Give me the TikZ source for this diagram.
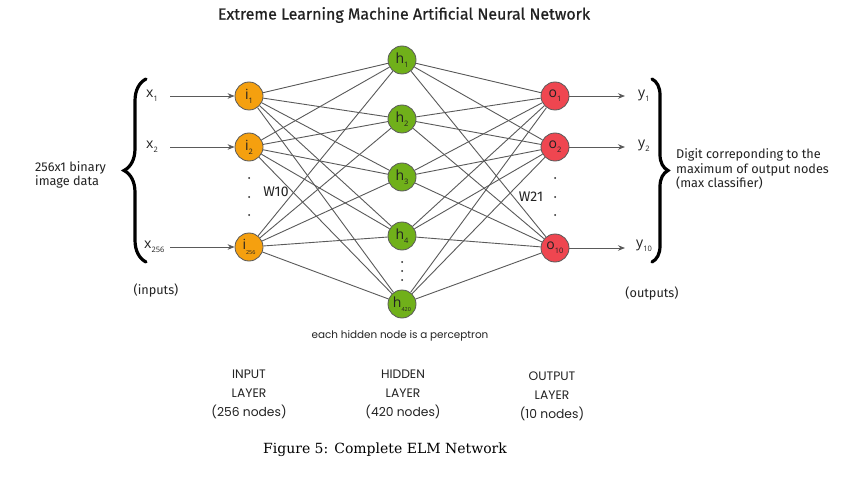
\documentclass[tikz,border=0pt]{standalone}
\usepackage{fontspec}
\setmainfont{Open Sans}
\newfontfamily\dinfont{Fira Sans}
\newfontfamily\dintitle{Fira Sans}[FakeBold=0.6]
\newfontfamily\geofont{Poppins}
\newfontfamily\capfont{DejaVu Serif}
\usetikzlibrary{arrows.meta,decorations.pathreplacing}
\definecolor{inorange}{HTML}{F5A00F}
\definecolor{hidgreen}{HTML}{70B01A}
\definecolor{outred}{HTML}{EF4650}
\definecolor{edgegray}{HTML}{5A5A5A}
\definecolor{txt}{HTML}{222222}
\newcommand\lsub[1]{\raisebox{-0.55ex}{\fontsize{7.5}{7.5}\selectfont #1}}
\newcommand\tsub[1]{\raisebox{-0.6ex}{\fontsize{5.5}{5.5}\selectfont #1}}
\tikzset{
  neuron/.style={circle, draw=edgegray, line width=0.8pt, minimum size=28pt, inner sep=0pt, text=txt, font=\fontsize{14}{14}\selectfont},
  inneuron/.style={neuron, fill=inorange},
  hidneuron/.style={neuron, fill=hidgreen},
  outneuron/.style={neuron, fill=outred},
  conn/.style={draw=edgegray, line width=0.9pt},
  arr/.style={conn, -{Stealth[length=7pt,width=5.5pt]}},
  lbl/.style={text=txt, inner sep=0pt, font=\fontsize{14}{14}\selectfont},
  side/.style={text=txt, inner sep=0pt, align=left, font=\dinfont\fontsize{12.7}{14.5}\selectfont},
  geo/.style={text=txt, inner sep=0pt, align=center, font=\geofont\fontsize{12.3}{19}\selectfont},
  dotm/.style={fill=txt},
  bigbrace/.style={decorate, line width=3.2pt, line cap=round}
}
\begin{document}
\begin{tikzpicture}[x=1pt,y=-1pt]
\useasboundingbox (0,0) rectangle (854,492);
\fill[white] (0,0) rectangle (854,492);

% title
\node[text=txt, font=\dintitle\fontsize{16}{16}\selectfont] (title) at (404,15) {Extreme Learning Machine Artificial Neural Network};

% input neurons
\node[inneuron] (i1) at (249,96) {i\lsub{1}};
\node[inneuron] (i2) at (249,147) {i\lsub{2}};
\node[inneuron] (i3) at (249,247) {i\tsub{256}};
% hidden neurons
\node[hidneuron] (h1) at (402,60) {h\lsub{1}};
\node[hidneuron] (h2) at (402,119) {h\lsub{2}};
\node[hidneuron] (h3) at (402,177) {h\lsub{3}};
\node[hidneuron] (h4) at (402,236) {h\lsub{4}};
\node[hidneuron] (h5) at (402,304) {h\tsub{420}};
% output neurons
\node[outneuron] (o1) at (555,96) {o\lsub{1}};
\node[outneuron] (o2) at (555,147) {o\lsub{2}};
\node[outneuron] (o3) at (555,248) {o\lsub{10}};

% connections
\foreach \a in {i1,i2,i3}
  \foreach \b in {h1,h2,h3,h4,h5}
    \draw[conn] (\a) -- (\b);
\foreach \a in {h1,h2,h3,h4,h5}
  \foreach \b in {o1,o2,o3}
    \draw[conn] (\a) -- (\b);

% inputs
\node[lbl, anchor=west] (x1) at (146,96) {x\lsub{1}};
\node[lbl, anchor=west] (x2) at (146,147) {x\lsub{2}};
\node[lbl, anchor=west] (x3) at (144,247) {x\lsub{256}};
\coordinate (xa1) at (170,96);
\coordinate (xa2) at (170,147);
\coordinate (xa3) at (170,247);
\draw[arr] (xa1) -- (i1);
\draw[arr] (xa2) -- (i2);
\draw[arr] (xa3) -- (i3);

% outputs
\coordinate (ya1) at (625,96);
\coordinate (ya2) at (625,147);
\coordinate (ya3) at (625,248);
\draw[arr] (o1) -- (ya1);
\draw[arr] (o2) -- (ya2);
\draw[arr] (o3) -- (ya3);
\node[lbl, anchor=west] (y1) at (638,96) {y\lsub{1}};
\node[lbl, anchor=west] (y2) at (638,146) {y\lsub{2}};
\node[lbl, anchor=west] (y3) at (636,246) {y\lsub{10}};

% dots
\foreach \y in {178,197,215} {
  \fill[dotm] (249,\y) circle (1pt);
  \fill[dotm] (555,\y) circle (1pt);
}
\foreach \y in {262,271,280}
  \fill[dotm] (402,\y) circle (1pt);

% weights
\node[lbl, font=\dinfont\fontsize{14}{14}\selectfont] (w10) at (276,192) {W10};
\node[lbl, font=\dinfont\fontsize{14}{14}\selectfont] (w21) at (531,197) {W21};

% braces
\draw[bigbrace, decoration={brace, amplitude=22pt}] (146,262) -- (146,79);
\draw[bigbrace, decoration={brace, amplitude=16pt}] (652,79) -- (652,262);

% side texts
\node[side, anchor=west] (imgtxt) at (35,175) {256x1 binary\\image data};
\node[side, anchor=west] (digtxt) at (676,169) {Digit correponding to the\\maximum of output nodes\\(max classifier)};
\node[side, anchor=center] (inputs) at (156,290) {(inputs)};
\node[side, anchor=center] (outputs) at (652,293) {(outputs)};

% bottom texts
\node[geo, font=\geofont\fontsize{10.4}{12}\selectfont] (perc) at (400,336) {each hidden node is a perceptron};
\node[geo] (inlayer) at (249,394) {INPUT\\LAYER\\(256 nodes)};
\node[geo] (hidlayer) at (403,394) {HIDDEN\\LAYER\\(420 nodes)};
\node[geo] (outlayer) at (552,396) {OUTPUT\\LAYER\\(10 nodes)};

% caption
\node[text=black, inner sep=0pt, font=\capfont\fontsize{14}{14}\selectfont] (caption) at (385,450) {Figure 5: Complete ELM Network};
\end{tikzpicture}
\end{document}
